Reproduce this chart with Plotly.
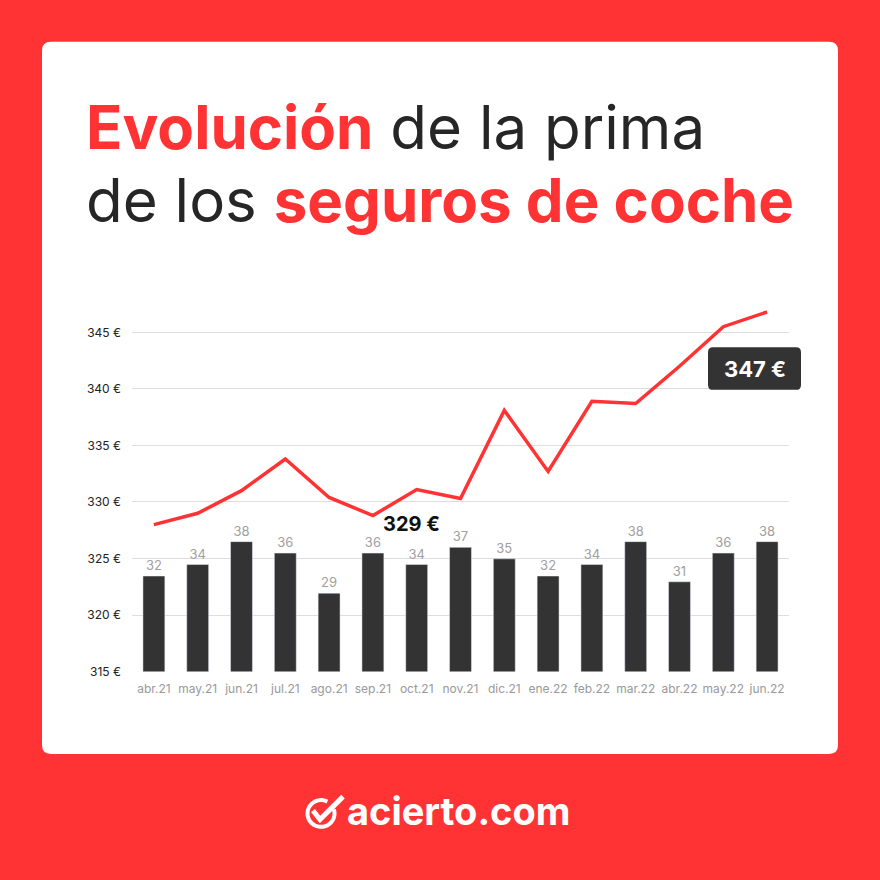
"""Evolución de la prima de los seguros de coche - acierto.com style card."""

import math

import plotly.graph_objects as go

MONTHS = [
    "abr.21", "may.21", "jun.21", "jul.21", "ago.21", "sep.21", "oct.21", "nov.21",
    "dic.21", "ene.22", "feb.22", "mar.22", "abr.22", "may.22", "jun.22",
]
PRIMA = [328.0, 329.0, 331.0, 333.8, 330.4, 328.8, 331.1, 330.3,
         338.1, 332.7, 338.9, 338.7, 342.0, 345.5, 346.8]
BARS = [32, 34, 38, 36, 29, 36, 34, 37, 35, 32, 34, 38, 31, 36, 38]
Y_TICKS = [315, 320, 325, 330, 335, 340, 345]
Y_TICK_TEXT = [f"{v} €" for v in Y_TICKS]

RED = "#ff3333"
DARK = "#333333"
FONT = "Inter"
W = H = 880


def px(x):
    return x / W


def py(y):
    return 1 - y / H


def rounded_rect(x0, y0, x1, y1, r):
    # pixel coords -> paper path with rounded corners
    a, b, c, d = px(x0), py(y0), px(x1), py(y1)
    rr = r / W
    return (
        f"M {a + rr},{b} L {c - rr},{b} Q {c},{b} {c},{b - rr} "
        f"L {c},{d + rr} Q {c},{d} {c - rr},{d} L {a + rr},{d} "
        f"Q {a},{d} {a},{d + rr} L {a},{b - rr} Q {a},{b} {a + rr},{b} Z"
    )


def arc_path(cx, cy, r, t0, t1, steps=40):
    pts = []
    for i in range(steps + 1):
        t = math.radians(t0 + (t1 - t0) * i / steps)
        pts.append((px(cx + r * math.cos(t)), py(cy - r * math.sin(t))))
    return "M " + " L ".join(f"{x},{y}" for x, y in pts)


fig = go.Figure()
fig.add_trace(
    go.Bar(
        x=MONTHS,
        y=BARS,
        yaxis="y2",
        width=0.5,
        marker={"color": DARK},
        text=BARS,
        textposition="outside",
        textfont={"color": "#a0a0a0", "size": 13, "family": FONT},
        cliponaxis=False,
        hoverinfo="skip",
    )
)
fig.add_trace(
    go.Scatter(
        x=MONTHS,
        y=PRIMA,
        mode="lines",
        line={"color": RED, "width": 3.5},
        hoverinfo="skip",
    )
)

annotations = [
    dict(
        text=f"<b><span style='color:{RED}'>Evolución</span></b> de la prima",
        x=px(84), y=py(166), xref="paper", yref="paper",
        xanchor="left", yanchor="bottom", showarrow=False,
        font={"family": FONT, "size": 60, "color": "#262626"},
    ),
    dict(
        text=f"de los <b><span style='color:{RED}'>seguros de coche</span></b>",
        x=px(84), y=py(240), xref="paper", yref="paper",
        xanchor="left", yanchor="bottom", showarrow=False,
        font={"family": FONT, "size": 60, "color": "#262626"},
    ),
    dict(
        text="<b>329 €</b>", x=px(411), y=py(528), xref="paper", yref="paper",
        xanchor="center", yanchor="middle",
        showarrow=False, font={"family": FONT, "size": 20, "color": "#111111"},
    ),
    dict(
        text="<b>347 €</b>", x=px(755), y=py(372), xref="paper", yref="paper",
        xanchor="center", yanchor="middle",
        showarrow=False, font={"family": FONT, "size": 22, "color": "white"},
    ),
    dict(
        text="<b>acierto.com</b>", x=px(345), y=py(817), xref="paper", yref="paper",
        xanchor="left", yanchor="middle", showarrow=False,
        font={"family": FONT, "size": 38, "color": "white"},
    ),
]

shapes = [
    dict(type="path", path=rounded_rect(42, 42, 838, 760, 9), xref="paper", yref="paper",
         fillcolor="white", line={"width": 0}, layer="below"),
    dict(type="path", path=rounded_rect(708, 350, 801, 393, 5), xref="paper", yref="paper",
         fillcolor=DARK, line={"width": 0}, layer="above"),
    # logo: open circle + check mark
    dict(type="path", xref="paper", yref="paper",
         path=arc_path(321, 820, 13.5, 62, 378),
         line={"color": "white", "width": 4}),
    dict(type="path", xref="paper", yref="paper",
         path=f"M {px(313)},{py(817)} L {px(320)},{py(826)} L {px(343)},{py(803)}",
         line={"color": "white", "width": 5}),
]

fig.update_layout(
    width=W,
    height=H,
    autosize=False,
    paper_bgcolor=RED,
    plot_bgcolor="rgba(0,0,0,0)",
    margin={"l": 0, "r": 0, "t": 0, "b": 0},
    showlegend=False,
    bargap=0.5,
    xaxis={
        "domain": [px(132), px(789)],
        "tickfont": {"family": FONT, "size": 12, "color": "#999999"},
        "showgrid": False,
        "showline": False,
        "ticks": "",
        "ticklabelstandoff": 8,
        "fixedrange": True,
    },
    yaxis={
        "domain": [py(677), py(300.8)],
        "range": [315, 348],
        "tickvals": Y_TICKS,
        "ticktext": Y_TICK_TEXT,
        "tickfont": {"family": FONT, "size": 12, "color": "#222222"},
        "gridcolor": "#dddddd",
        "gridwidth": 1,
        "zeroline": False,
        "ticks": "",
        "ticklabelstandoff": 10,
    },
    yaxis2={
        "overlaying": "y",
        "range": [15.33, 15.33 + 376.2 / 5.78],
        "visible": False,
    },
    annotations=annotations,
    shapes=shapes,
)

fig.write_html(
    "out.html",
    config={"displayModeBar": False, "responsive": False},
    post_script="document.body.style.margin='0';",
)
